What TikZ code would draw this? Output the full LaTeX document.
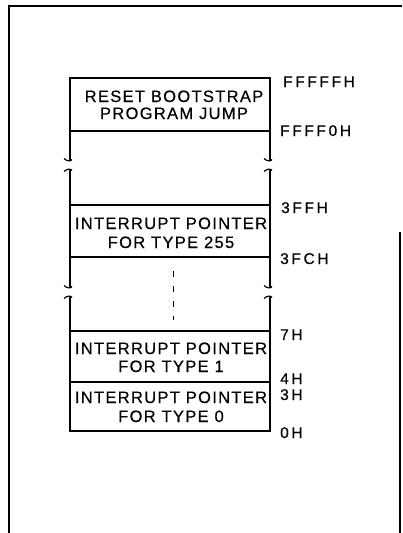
\documentclass[tikz,border=0pt]{standalone}
\usepackage{fontspec}
\setmainfont{Liberation Sans}
\begin{document}
\begin{tikzpicture}[x=1pt,y=-1pt,
  frame/.style={line width=2pt},
  wall/.style={line width=2.6pt},
  sep/.style={line width=1.2pt},
  brk/.style={line width=1.2pt},
  txt/.style={font=\fontsize{16.5}{16.5}\selectfont\addfontfeature{LetterSpace=8,FakeBold=0.4}, inner sep=0pt, anchor=base},
  lab/.style={font=\fontsize{15.5}{15.5}\selectfont\addfontfeature{LetterSpace=17,FakeBold=0.4}, inner sep=0pt, anchor=base west}]
\useasboundingbox (0,0) rectangle (402,533);
% outer frame
\draw[frame] (9,533) -- (9,6) -- (402,6);
\draw[frame] (400,232) -- (400,533);
% box walls with breaks
\foreach \x in {70,270}{
  \draw[wall] (\x,78) -- (\x,160);
  \draw[brk] (\x-6,158.5) .. controls (\x-3,161.5) and (\x+1,161.5) .. (\x+2,159.5);
  \draw[brk] (\x-6,171.5) .. controls (\x-3,168.5) and (\x+1,168.5) .. (\x+2,170.5);
  \draw[wall] (\x,170) -- (\x,287);
  \draw[brk] (\x-6,285.5) .. controls (\x-3,288.5) and (\x+1,288.5) .. (\x+2,286.5);
  \draw[brk] (\x-6,298.5) .. controls (\x-3,295.5) and (\x+1,295.5) .. (\x+2,297.5);
  \draw[wall] (\x,297) -- (\x,431);
}
\draw[wall] (68.7,78) -- (271.3,78);
\draw[wall] (68.7,431) -- (271.3,431);
\foreach \y in {131,205,257,331,382}
  \draw[sep] (70,\y) -- (270,\y);
\draw[line width=1pt, dash pattern=on 6pt off 9pt] (173,271) -- (173,320);
% texts
\node[txt] (r1) at (174,102) {RESET BOOTSTRAP};
\node[txt] (r2) at (174,119) {PROGRAM JUMP};
\node[txt] (a1) at (171,229) {INTERRUPT POINTER};
\node[txt] (a2) at (171,248) {FOR TYPE 255};
\node[txt] (b1) at (171,354) {INTERRUPT POINTER};
\node[txt] (b2) at (171,372) {FOR TYPE 1};
\node[txt] (c1) at (171,403) {INTERRUPT POINTER};
\node[txt] (c2) at (171,422) {FOR TYPE 0};
% address labels
\node[lab] (l1) at (283,87) {FFFFFH};
\node[lab] (l2) at (280,136) {FFFF0H};
\node[lab] (l3) at (281,213) {3FFH};
\node[lab] (l4) at (280,264) {3FCH};
\node[lab] (l5) at (280,340) {7H};
\node[lab] (l6) at (280,384) {4H};
\node[lab] (l7) at (280,400) {3H};
\node[lab] (l8) at (280,438) {0H};
\end{tikzpicture}
\end{document}
